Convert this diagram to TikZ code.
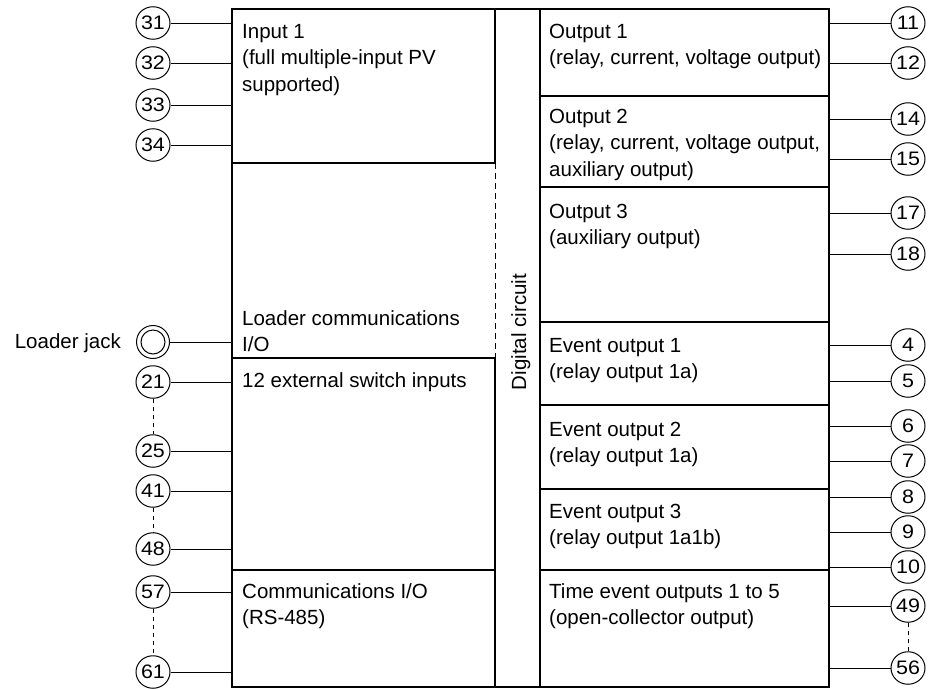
\documentclass[tikz,border=0pt]{standalone}
\usepackage{fontspec}
\setmainfont{Liberation Sans}
\newfontfamily\numfont[FakeStretch=1.1]{Liberation Sans}
\usetikzlibrary{shapes.geometric}
\newcommand\tstrut{\rule{0pt}{16pt}}
\begin{document}
\begin{tikzpicture}[x=1pt,y=-1pt,
  term/.style={ellipse, draw, line width=1pt, minimum width=34pt, minimum height=32.5pt, inner sep=0pt, font=\numfont\fontsize{19.5}{19.5}\selectfont},
  conn/.style={line width=1pt},
  dsh/.style={line width=1pt, dash pattern=on 4pt off 4pt},
  divider/.style={line width=1.3pt},
  lbl/.style={anchor=north west, inner sep=0pt, align=left, font=\fontsize{20.5}{26.5}\selectfont}]
\path[use as bounding box] (0,0) rectangle (931,688);

% outer box
\node[draw, line width=2pt, minimum width=597pt, minimum height=678pt, inner sep=0pt, anchor=north west] (outer) at (231,8) {};

% internal lines
\draw[divider] (495,8) -- (495,163);
\draw[line width=1pt, dash pattern=on 6pt off 4pt] (495,163) -- (495,358);
\draw[divider] (495,358) -- (495,686);
\draw[divider] (540,8) -- (540,686);
\foreach \yy in {163,358,570} \draw[divider] (231,\yy) -- (495,\yy);
\foreach \yy in {96,187,322,405,489,570} \draw[divider] (540,\yy) -- (828,\yy);

% texts left
\node[lbl] (in1) at (242,22) {\tstrut Input 1\\(full multiple-input PV\\supported)};
\node[lbl] (ldr) at (242,309) {\tstrut Loader communications\\I/O};
\node[lbl] (ext) at (242,371) {\tstrut 12 external switch inputs};
\node[lbl] (com) at (242,582) {\tstrut Communications I/O\\(RS-485)};
% texts right
\node[lbl] (o1) at (549,22) {\tstrut Output 1\\(relay, current, voltage output)};
\node[lbl] (o2) at (549,107) {\tstrut Output 2\\(relay, current, voltage output,\\auxiliary output)};
\node[lbl] (o3) at (549,202) {\tstrut Output 3\\(auxiliary output)};
\node[lbl] (e1) at (549,336) {\tstrut Event output 1\\(relay output 1a)};
\node[lbl] (e2) at (549,420) {\tstrut Event output 2\\(relay output 1a)};
\node[lbl] (e3) at (549,502) {\tstrut Event output 3\\(relay output 1a1b)};
\node[lbl] (te) at (549,582) {\tstrut Time event outputs 1 to 5\\(open-collector output)};
% digital circuit
\node[rotate=90, anchor=base, inner sep=0pt, font=\fontsize{20.5}{24}\selectfont] (dig) at (526,332) {Digital circuit};

% left terminals
\foreach \n/\yy in {31/23,32/63,33/105,34/145,21/382,25/451,41/491,48/549,57/592,61/672}{
  \node[term] (c\n) at (153,\yy) {\n};
  \draw[conn] (c\n.east) -- (c\n.east -| outer.west);
}
% loader jack
\node[circle, draw, line width=1pt, minimum size=33pt, inner sep=0pt] (jack) at (153,342) {};
\node[circle, draw, line width=1pt, minimum size=24pt, inner sep=0pt] (jackin) at (jack) {};
\draw[conn] (jack.east) -- (jack.east -| outer.west);
\node[anchor=base east, inner sep=0pt, font=\fontsize{20.5}{24}\selectfont] (jacklbl) at (121,348) {Loader jack};

% right terminals
\foreach \n/\yy in {11/23,12/63,14/119,15/159,17/213,18/254,4/345,5/381,6/426,7/461,8/497,9/532,10/567,49/606,56/668}{
  \node[term] (c\n) at (908,\yy) {\n};
  \draw[conn] (c\n.west) -- (c\n.west -| outer.east);
}

% dashed links
\draw[dsh] (c21.south) -- (c25.north);
\draw[dsh] (c41.south) -- (c48.north);
\draw[dsh] (c57.south) -- (c61.north);
\draw[dsh] (c49.south) -- (c56.north);
\end{tikzpicture}
\end{document}
